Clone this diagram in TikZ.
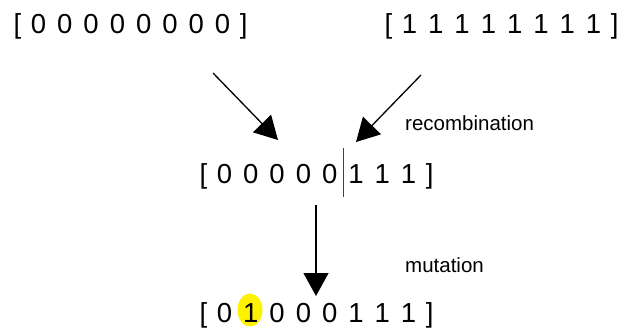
\documentclass[tikz,border=0pt]{standalone}
\usepackage{fontspec}
\setmainfont{Liberation Sans}
\usetikzlibrary{arrows.meta}
\newcommand\dg[1]{\makebox[26.3pt]{#1}}
\newcommand\bk[1]{\makebox[16pt]{#1}}
\tikzset{
  bits/.style={inner sep=0pt, anchor=base, font=\fontsize{27.5}{32}\selectfont},
  lbl/.style={inner sep=0pt, anchor=base west, font=\fontsize{20.5}{24}\selectfont},
  bigarrow/.style={line width=1.3pt, -{Triangle[length=23pt,width=25pt]}},
  cut/.style={line width=0.8pt, black!75},
}
\begin{document}
\begin{tikzpicture}[x=1pt,y=-1pt]
\useasboundingbox (0,0) rectangle (623,330);
% highlight of mutated bit
\fill[yellow] (250,310) ellipse [x radius=12.5, y radius=16.5];
\node[bits] (p1) at (130.6,33) {\bk{[}\dg0\dg0\dg0\dg0\dg0\dg0\dg0\dg0\bk{]}};
\node[bits] (p2) at (501.6,33) {\bk{[}\dg1\dg1\dg1\dg1\dg1\dg1\dg1\dg1\bk{]}};
\node[bits] (child) at (316.6,183) {\bk{[}\dg0\dg0\dg0\dg0\dg0\dg1\dg1\dg1\bk{]}};
\node[bits] (mut) at (316.6,322) {\bk{[}\dg0\dg1\dg0\dg0\dg0\dg1\dg1\dg1\bk{]}};
\node[lbl] (rec) at (405,130) {recombination};
\node[lbl] (mu) at (405,272) {mutation};
% crossover point
\coordinate (cuttop) at (343,148);
\coordinate (cutbot) at (343,197);
\draw[cut] (cuttop) -- (cutbot);
% arrows
\coordinate (a1s) at (213,73);
\coordinate (a1e) at (278,140);
\coordinate (a2s) at (421,75);
\coordinate (a2e) at (356,142);
\coordinate (a3s) at (316,205);
\coordinate (a3e) at (316,296);
\draw[bigarrow] (a1s) -- (a1e);
\draw[bigarrow] (a2s) -- (a2e);
\draw[bigarrow] (a3s) -- (a3e);
\end{tikzpicture}
\end{document}
